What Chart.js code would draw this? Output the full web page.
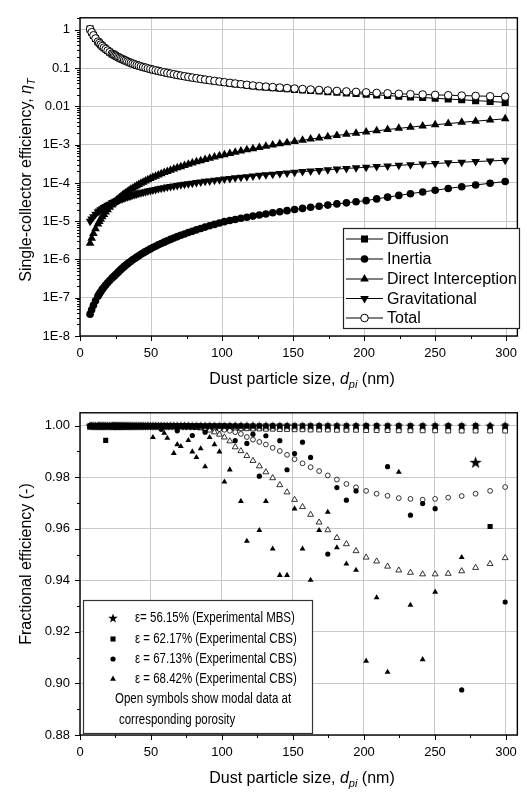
<!DOCTYPE html>
<html>
<head>
<meta charset="utf-8">
<script src="https://cdn.jsdelivr.net/npm/chart.js@4.4.1/dist/chart.umd.min.js"></script>
<style>
html, body { margin: 0; padding: 0; background: #fff; }
#wrap { position: relative; width: 527px; height: 794px; }
#topBox { position: absolute; left: 0; top: 0; width: 527px; height: 395px; }
#botBox { position: absolute; left: 0; top: 395px; width: 527px; height: 399px; }
</style>
</head>
<body>
<div id="wrap">
  <div id="topBox"><canvas id="topChart" width="527" height="395"></canvas></div>
  <div id="botBox"><canvas id="botChart" width="527" height="399"></canvas></div>
</div>
<script>
// particle sizes (nm), shared by both panels
const sizes = [
  7.10, 8.20, 9.47, 10.93, 12.63, 13.57, 14.58, 15.67, 16.84, 18.09,
  19.44, 20.89, 22.45, 23.27, 24.13, 25.01, 25.93, 26.88, 27.86, 28.88,
  29.94, 31.04, 32.17, 33.35, 34.57, 35.84, 37.15, 38.52, 39.93, 41.39,
  42.91, 44.48, 46.11, 47.80, 49.55, 51.36, 53.24, 55.19, 57.21, 59.31,
  61.48, 63.74, 66.07, 68.49, 71.0, 73.6, 76.3, 79.1, 82.0, 85.0,
  88.1, 91.3, 94.7, 98.2, 101.7, 105.5, 109.3, 113.3, 117.5, 121.8,
  126.3, 130.9, 135.7, 140.7, 145.8, 151.1, 156.7, 162.4, 168.4, 174.5,
  180.9, 187.6, 194.4, 201.5, 208.9, 216.6, 224.5, 232.7, 241.3, 250.1,
  259.3, 268.8, 278.6, 288.8, 299.4
];

// top panel: single-collector efficiency
const diffusion = [
  1.046, 0.868, 0.720, 0.596, 0.494, 0.452, 0.412, 0.377, 0.344, 0.315,
  0.288, 0.262, 0.240, 0.230, 0.220, 0.211, 0.202, 0.193, 0.185, 0.177,
  0.170, 0.163, 0.156, 0.149, 0.143, 0.137, 0.131, 0.125, 0.120, 0.1154,
  0.1109, 0.1065, 0.1024, 0.0984, 0.0946, 0.0909, 0.0874, 0.0840, 0.0807, 0.0775,
  0.0745, 0.0716, 0.0688, 0.0661, 0.0634, 0.0609, 0.0585, 0.0563, 0.0540, 0.0518,
  0.0498, 0.0478, 0.0459, 0.0441, 0.0423, 0.0406, 0.0389, 0.0373, 0.0358, 0.0342,
  0.0329, 0.0318, 0.0308, 0.0299, 0.0289, 0.0279, 0.0270, 0.0261, 0.0252, 0.0242,
  0.0234, 0.0226, 0.0217, 0.0209, 0.0200, 0.0192, 0.0184, 0.0177, 0.0171, 0.0163,
  0.0156, 0.0149, 0.0142, 0.0135, 0.0127
];
const inertia = [
  3.72e-8, 4.87e-8, 6.38e-8, 8.36e-8, 1.10e-7, 1.26e-7, 1.44e-7, 1.65e-7, 1.88e-7, 2.16e-7,
  2.47e-7, 2.83e-7, 3.24e-7, 3.47e-7, 3.71e-7, 3.97e-7, 4.31e-7, 4.67e-7, 5.07e-7, 5.51e-7,
  5.98e-7, 6.49e-7, 7.05e-7, 7.65e-7, 8.30e-7, 9.01e-7, 9.78e-7, 1.06e-6, 1.15e-6, 1.25e-6,
  1.36e-6, 1.47e-6, 1.60e-6, 1.74e-6, 1.89e-6, 2.05e-6, 2.22e-6, 2.41e-6, 2.62e-6, 2.84e-6,
  3.09e-6, 3.35e-6, 3.64e-6, 3.95e-6, 4.28e-6, 4.65e-6, 5.05e-6, 5.48e-6, 5.95e-6, 6.46e-6,
  7.01e-6, 7.61e-6, 8.26e-6, 8.96e-6, 9.73e-6, 1.04e-5, 1.11e-5, 1.19e-5, 1.27e-5, 1.36e-5,
  1.45e-5, 1.55e-5, 1.66e-5, 1.77e-5, 1.89e-5, 2.03e-5, 2.16e-5, 2.31e-5, 2.47e-5, 2.64e-5,
  2.83e-5, 3.02e-5, 3.23e-5, 3.45e-5, 3.83e-5, 4.25e-5, 4.72e-5, 5.24e-5, 5.82e-5, 6.46e-5,
  7.18e-5, 7.97e-5, 8.85e-5, 9.82e-5, 1.09e-4
];
const interception = [
  2.67e-6, 3.56e-6, 4.75e-6, 6.34e-6, 8.45e-6, 9.76e-6, 1.13e-5, 1.30e-5, 1.50e-5, 1.74e-5,
  2.00e-5, 2.31e-5, 2.67e-5, 2.87e-5, 3.09e-5, 3.32e-5, 3.56e-5, 3.83e-5, 4.11e-5, 4.42e-5,
  4.75e-5, 5.11e-5, 5.49e-5, 5.90e-5, 6.34e-5, 6.81e-5, 7.32e-5, 7.86e-5, 8.45e-5, 9.08e-5,
  9.76e-5, 1.05e-4, 1.13e-4, 1.21e-4, 1.30e-4, 1.40e-4, 1.50e-4, 1.62e-4, 1.74e-4, 1.87e-4,
  2.00e-4, 2.15e-4, 2.31e-4, 2.49e-4, 2.67e-4, 2.87e-4, 3.09e-4, 3.32e-4, 3.56e-4, 3.83e-4,
  4.11e-4, 4.42e-4, 4.75e-4, 5.11e-4, 5.49e-4, 5.90e-4, 6.34e-4, 6.81e-4, 7.32e-4, 7.86e-4,
  8.45e-4, 9.08e-4, 9.76e-4, 1.05e-3, 1.13e-3, 1.21e-3, 1.30e-3, 1.40e-3, 1.50e-3, 1.62e-3,
  1.74e-3, 1.87e-3, 2.00e-3, 2.15e-3, 2.31e-3, 2.49e-3, 2.67e-3, 2.87e-3, 3.09e-3, 3.32e-3,
  3.56e-3, 3.83e-3, 4.11e-3, 4.42e-3, 4.75e-3
];
const gravitational = [
  1.00e-5, 1.15e-5, 1.31e-5, 1.51e-5, 1.73e-5, 1.85e-5, 1.98e-5, 2.12e-5, 2.27e-5, 2.43e-5,
  2.61e-5, 2.79e-5, 2.99e-5, 3.09e-5, 3.20e-5, 3.31e-5, 3.43e-5, 3.54e-5, 3.67e-5, 3.80e-5,
  3.93e-5, 4.06e-5, 4.21e-5, 4.35e-5, 4.50e-5, 4.66e-5, 4.82e-5, 4.99e-5, 5.16e-5, 5.34e-5,
  5.53e-5, 5.72e-5, 5.92e-5, 6.13e-5, 6.34e-5, 6.56e-5, 6.79e-5, 7.02e-5, 7.27e-5, 7.52e-5,
  7.78e-5, 8.05e-5, 8.34e-5, 8.63e-5, 8.93e-5, 9.24e-5, 9.56e-5, 9.89e-5, 1.02e-4, 1.06e-4,
  1.10e-4, 1.13e-4, 1.17e-4, 1.22e-4, 1.26e-4, 1.31e-4, 1.36e-4, 1.41e-4, 1.46e-4, 1.52e-4,
  1.58e-4, 1.64e-4, 1.70e-4, 1.77e-4, 1.83e-4, 1.90e-4, 1.98e-4, 2.05e-4, 2.13e-4, 2.22e-4,
  2.30e-4, 2.39e-4, 2.48e-4, 2.58e-4, 2.68e-4, 2.78e-4, 2.89e-4, 3.00e-4, 3.11e-4, 3.23e-4,
  3.36e-4, 3.49e-4, 3.62e-4, 3.76e-4, 3.90e-4
];
const total = [
  1.047, 0.869, 0.721, 0.597, 0.495, 0.453, 0.413, 0.378, 0.344, 0.315,
  0.288, 0.262, 0.240, 0.230, 0.220, 0.211, 0.202, 0.193, 0.185, 0.177,
  0.170, 0.163, 0.156, 0.149, 0.143, 0.137, 0.131, 0.126, 0.120, 0.116,
  0.111, 0.107, 0.103, 0.0986, 0.0948, 0.0911, 0.0876, 0.0842, 0.0809, 0.0778,
  0.0748, 0.0719, 0.0691, 0.0664, 0.0638, 0.0613, 0.0589, 0.0567, 0.0545, 0.0523,
  0.0503, 0.0484, 0.0465, 0.0447, 0.0430, 0.0413, 0.0397, 0.0381, 0.0367, 0.0352,
  0.0339, 0.0329, 0.0320, 0.0311, 0.0302, 0.0293, 0.0285, 0.0277, 0.0269, 0.0261,
  0.0254, 0.0247, 0.0240, 0.0233, 0.0226, 0.0220, 0.0214, 0.0209, 0.0205, 0.0200,
  0.0196, 0.0192, 0.0188, 0.0184, 0.0180
];

// bottom panel: fractional efficiency
const mbs5615 = [
  1.000, 1.000, 1.000, 1.000, 1.000, 1.000, 1.000, 1.000, 1.000, 1.000,
  1.000, 1.000, 1.000, 1.000, 1.000, 1.000, 1.000, 1.000, 1.000, 1.000,
  1.000, 1.000, 1.000, 1.000, 1.000, 1.000, 1.000, 1.000, 1.000, 1.000,
  1.000, 1.000, 1.000, 1.000, 1.000, 1.000, 1.000, 1.000, 1.000, 1.000,
  1.000, 1.000, 1.000, 1.000, 1.000, 1.000, 1.000, 1.000, 1.000, 1.000,
  1.000, 1.000, 1.000, 1.000, 1.000, 1.000, 1.000, 1.000, 1.000, 1.000,
  1.000, 1.000, 1.000, 1.000, 1.000, 1.000, 1.000, 1.000, 1.000, 1.000,
  1.000, 1.000, 1.000, 1.000, 1.000, 1.000, 1.000, 1.000, 1.000, 1.000,
  1.000, 1.000, 1.000, 1.000, 1.000
];
const mbsExtraSize = [278.6];
const mbsExtraEff = [0.9858];
const cbs6217 = [
  1.000, 1.000, 1.000, 1.000, 1.000, 1.000, 1.000, 1.000, 1.000, 0.9943,
  1.000, 1.000, 1.000, 1.000, 1.000, 1.000, 1.000, 1.000, 1.000, 1.000,
  1.000, 1.000, 1.000, 1.000, 1.000, 1.000, 1.000, 1.000, 1.000, 1.000,
  1.000, 1.000, 1.000, 1.000, 1.000, 1.000, 1.000, 1.000, 1.000, 1.000,
  1.000, 1.000, 1.000, 1.000, 1.000, 1.000, 1.000, 1.000, 1.000, 1.000,
  1.000, 1.000, 1.000, 1.000, 1.000, 1.000, 1.000, 1.000, 1.000, 1.000,
  1.000, 1.000, 1.000, 1.000, 1.000, 1.000, 1.000, 1.000, 1.000, 1.000,
  1.000, 1.000, 1.000, 1.000, 1.000, 1.000, 1.000, 1.000, 1.000, 1.000,
  1.000, 1.000, 1.000, 0.9609, 1.000
];
const cbs6713 = [
  1.000, 1.000, 1.000, 1.000, 1.000, 1.000, 1.000, 1.000, 1.000, 1.000,
  1.000, 1.000, 1.000, 1.000, 1.000, 1.000, 1.000, 1.000, 1.000, 1.000,
  1.000, 1.000, 1.000, 1.000, 1.000, 1.000, 1.000, 1.000, 1.000, 1.000,
  1.000, 1.000, 1.000, 1.000, 1.000, 1.000, 1.000, 1.000, 0.9986, 1.000,
  1.000, 1.000, 1.000, 0.9980, 1.000, 1.000, 1.000, 0.9962, 1.000, 1.000,
  0.9975, 1.000, 1.000, 1.000, 1.000, 1.000, 0.9942, 1.000, 0.9931, 0.9967,
  0.9804, 0.9961, 1.000, 0.9942, 0.9829, 0.9892, 0.9936, 0.9877, 1.000, 0.9502,
  0.9760, 0.9711, 0.9747, 1.000, 1.000, 0.9841, 1.000, 0.9653, 0.9698, 0.9678,
  1.000, 0.8975, 1.000, 1.000, 0.9316
];
const cbs6842 = [
  1.000, 1.000, 1.000, 1.000, 1.000, 1.000, 1.000, 1.000, 1.000, 1.000,
  1.000, 1.000, 1.000, 1.000, 1.000, 1.000, 1.000, 1.000, 1.000, 1.000,
  1.000, 1.000, 1.000, 1.000, 1.000, 1.000, 1.000, 1.000, 1.000, 1.000,
  1.000, 1.000, 1.000, 1.000, 1.000, 0.9955, 1.000, 1.000, 1.000, 0.9971,
  0.9952, 1.000, 0.9893, 0.9927, 0.9920, 1.000, 0.9943, 0.9899, 0.9877, 0.9911,
  0.9841, 0.9955, 0.9927, 0.9899, 0.9782, 0.9829, 1.000, 0.9707, 0.9552, 1.000,
  0.9594, 0.9707, 0.9522, 0.9420, 0.9420, 0.9678, 0.9522, 0.9401, 0.9594, 0.9665,
  0.9527, 0.9464, 0.9440, 0.9087, 0.9333, 0.9044, 0.9820, 0.9304, 0.9093, 0.9355,
  1.000, 0.9489, 1.000, 1.000, 1.000
];
const model6217 = [
  0.9997, 0.9997, 0.9997, 0.9997, 0.9997, 0.9997, 0.9997, 0.9997, 0.9997, 0.9997,
  0.9997, 0.9997, 0.9997, 0.9997, 0.9997, 0.9997, 0.9997, 0.9997, 0.9997, 0.9997,
  0.9997, 0.9997, 0.9997, 0.9997, 0.9997, 0.9997, 0.9997, 0.9997, 0.9997, 0.9997,
  0.9997, 0.9997, 0.9997, 0.9997, 0.9997, 0.9997, 0.9997, 0.9997, 0.9997, 0.9997,
  0.9997, 0.9997, 0.9997, 0.9997, 0.9997, 0.9996, 0.9996, 0.9995, 0.9995, 0.9994,
  0.9994, 0.9993, 0.9993, 0.9992, 0.9992, 0.9991, 0.9991, 0.9990, 0.9990, 0.9989,
  0.9989, 0.9988, 0.9988, 0.9987, 0.9987, 0.9986, 0.9986, 0.9985, 0.9985, 0.9985,
  0.9984, 0.9984, 0.9984, 0.9983, 0.9983, 0.9983, 0.9982, 0.9982, 0.9982, 0.9982,
  0.9981, 0.9981, 0.9981, 0.9981, 0.9981
];
const model6713 = [
  0.9998, 0.9998, 0.9998, 0.9998, 0.9998, 0.9998, 0.9998, 0.9998, 0.9998, 0.9998,
  0.9998, 0.9998, 0.9998, 0.9998, 0.9998, 0.9998, 0.9998, 0.9998, 0.9998, 0.9998,
  0.9998, 0.9998, 0.9998, 0.9998, 0.9998, 0.9998, 0.9998, 0.9998, 0.9998, 0.9998,
  0.9998, 0.9998, 0.9998, 0.9998, 0.9998, 0.9998, 0.9998, 0.9998, 0.9998, 0.9998,
  0.9998, 0.9998, 0.9998, 0.9998, 0.9998, 0.9998, 0.9998, 0.9998, 0.9998, 0.9995,
  0.9994, 0.9992, 0.9990, 0.9987, 0.9984, 0.9980, 0.9975, 0.9968, 0.9956, 0.9946,
  0.9937, 0.9927, 0.9914, 0.9902, 0.9887, 0.9870, 0.9854, 0.9839, 0.9824, 0.9807,
  0.9791, 0.9774, 0.9761, 0.9747, 0.9736, 0.9728, 0.9719, 0.9716, 0.9713, 0.9716,
  0.9721, 0.9727, 0.9736, 0.9747, 0.9762
];
const model6842 = [
  0.9998, 0.9998, 0.9998, 0.9998, 0.9998, 0.9998, 0.9998, 0.9998, 0.9998, 0.9998,
  0.9998, 0.9998, 0.9998, 0.9998, 0.9998, 0.9998, 0.9998, 0.9998, 0.9998, 0.9998,
  0.9998, 0.9998, 0.9998, 0.9998, 0.9998, 0.9998, 0.9998, 0.9998, 0.9998, 0.9998,
  0.9998, 0.9998, 0.9998, 0.9998, 0.9998, 0.9998, 0.9998, 0.9998, 0.9998, 0.9998,
  0.9998, 0.9998, 0.9998, 0.9998, 0.9998, 0.9998, 0.9998, 0.9996, 0.9994, 0.9991,
  0.9987, 0.9982, 0.9975, 0.9966, 0.9955, 0.9940, 0.9917, 0.9902, 0.9883, 0.9864,
  0.9843, 0.9820, 0.9797, 0.9770, 0.9742, 0.9713, 0.9685, 0.9655, 0.9625, 0.9595,
  0.9565, 0.9541, 0.9514, 0.9489, 0.9474, 0.9454, 0.9439, 0.9430, 0.9424, 0.9424,
  0.9426, 0.9436, 0.9449, 0.9464, 0.9487
];

// axis ticks / labels
const xTicks = [0, 25, 50, 75, 100, 125, 150, 175, 200, 225, 250, 275, 300];
const xTickLabels = ['0', '50', '100', '150', '200', '250', '300'];
const topYLabels = ['1E-8', '1E-7', '1E-6', '1E-5', '1E-4', '1E-3', '0.01', '0.1', '1'];
const botYTicks = [0.88, 0.89, 0.90, 0.91, 0.92, 0.93, 0.94, 0.95, 0.96, 0.97, 0.98, 0.99, 1.00];
const botYLabels = ['0.88', '0.90', '0.92', '0.94', '0.96', '0.98', '1.00'];

[diffusion, inertia, interception, gravitational, total, mbs5615, cbs6217, cbs6713, cbs6842,
 model6217, model6713, model6842].forEach((a, j) => {
  if (a.length !== sizes.length) throw new Error('array ' + j + ' has ' + a.length + ' values');
});

const FONT = '"Liberation Sans", Arial, Helvetica, sans-serif';
const GRID = '#c9c9c9';
const X_MAX = 308;
Chart.defaults.font.family = FONT;
Chart.defaults.color = '#000';

function pts(arr) {
  return sizes.map((x, i) => ({ x: x, y: arr[i] })).filter(p => p.y !== null);
}

function makeStar(d) {
  const c = document.createElement('canvas');
  c.width = d; c.height = d;
  const g = c.getContext('2d');
  const R = d / 2, r = R * 0.4;
  g.beginPath();
  for (let i = 0; i < 10; i++) {
    const a = -Math.PI / 2 + i * Math.PI / 5;
    const rr = i % 2 ? r : R;
    g.lineTo(R + rr * Math.cos(a), R * 1.08 + rr * Math.sin(a));
  }
  g.closePath();
  g.fillStyle = '#000';
  g.fill();
  return c;
}
const starSmall = makeStar(10);
const starBig = makeStar(13);

// draw text made of plain / italic / italic-subscript pieces
function richText(ctx, parts, x, y, size) {
  const fontOf = p => (p[1] ? 'italic ' : '') + (p[1] === 'sub' ? Math.round(size * 0.7) : size) + 'px ' + FONT;
  let w = 0;
  parts.forEach(p => { ctx.font = fontOf(p); w += ctx.measureText(p[0]).width; });
  let cx = x - w / 2;
  ctx.textAlign = 'left';
  ctx.textBaseline = 'alphabetic';
  parts.forEach(p => {
    ctx.font = fontOf(p);
    ctx.fillText(p[0], cx, y + (p[1] === 'sub' ? size * 0.28 : 0));
    cx += ctx.measureText(p[0]).width;
  });
}

function drawFrameTicks(chart, isMajorY) {
  const ctx = chart.ctx, a = chart.chartArea, xs = chart.scales.x, ys = chart.scales.y;
  ctx.save();
  ctx.strokeStyle = '#000';
  ctx.lineWidth = 1;
  ctx.beginPath();
  xs.ticks.forEach(t => {
    const px = Math.round(xs.getPixelForValue(t.value)) + 0.5;
    const L = t.value % 50 === 0 ? 5 : 3;
    ctx.moveTo(px, a.bottom); ctx.lineTo(px, a.bottom + L);
  });
  ys.ticks.forEach(t => {
    const py = Math.round(ys.getPixelForValue(t.value)) + 0.5;
    const L = isMajorY(t.value) ? 5 : 3;
    ctx.moveTo(a.left, py); ctx.lineTo(a.left - L, py);
  });
  ctx.stroke();
  ctx.lineWidth = 1.4;
  ctx.strokeRect(a.left, a.top, a.right - a.left, a.bottom - a.top);
  ctx.restore();
}

function xTickCallback(v) {
  return v % 50 === 0 ? xTickLabels[v / 50] : '';
}

function isTopMajor(v) {
  const e = Math.round(Math.log10(v));
  return Math.abs(v / Math.pow(10, e) - 1) < 1e-6;
}
function isBotMajor(v) {
  return Math.round(v * 100) % 2 === 0;
}

// ---------- top chart ----------
const topPlugin = {
  id: 'topDecor',
  afterDraw(chart) {
    drawFrameTicks(chart, isTopMajor);
    const ctx = chart.ctx;
    ctx.save();
    ctx.fillStyle = '#000';
    richText(ctx, [['Dust particle size, ', ''], ['d', 'it'], ['pi', 'sub'], [' (nm)', '']], 302, 384, 16);
    ctx.translate(31, 180);
    ctx.rotate(-Math.PI / 2);
    richText(ctx, [['Single-collector efficiency, ', ''], ['\u03B7', 'it'], ['T', 'sub']], 0, 0, 16);
    ctx.restore();

    // legend
    ctx.save();
    ctx.fillStyle = '#fff';
    ctx.fillRect(343, 228, 176, 100);
    ctx.strokeStyle = '#222';
    ctx.lineWidth = 1.2;
    ctx.strokeRect(343.5, 228.5, 176, 100);
    const rowY = [239, 259, 279, 298.5, 318];
    const order = [0, 1, 2, 3, 4];
    order.forEach((di, r) => {
      const ds = chart.data.datasets[di];
      const y = rowY[r];
      ctx.strokeStyle = '#000';
      ctx.lineWidth = 1;
      ctx.beginPath(); ctx.moveTo(346, y); ctx.lineTo(383, y); ctx.stroke();
      ctx.fillStyle = ds.pointBackgroundColor;
      ctx.strokeStyle = '#000';
      ctx.lineWidth = ds.pointBorderWidth;
      Chart.helpers.drawPoint(ctx, { pointStyle: ds.pointStyle, rotation: ds.pointRotation || 0,
        radius: ds.pointRadius, borderWidth: ds.pointBorderWidth }, 364.5, y);
      ctx.fillStyle = '#000';
      ctx.font = '16px ' + FONT;
      ctx.textAlign = 'left';
      ctx.textBaseline = 'middle';
      ctx.fillText(ds.label, 387, y + 1);
    });
    ctx.restore();
  }
};

function lineSet(label, arr, style, radius, opts) {
  return Object.assign({
    label: label,
    data: pts(arr),
    showLine: true,
    borderColor: '#000',
    borderWidth: 1,
    pointStyle: style,
    pointRadius: radius,
    pointBackgroundColor: '#000',
    pointBorderColor: '#000',
    pointBorderWidth: 0
  }, opts || {});
}

new Chart(document.getElementById('topChart'), {
  type: 'scatter',
  data: {
    datasets: [
      lineSet('Diffusion', diffusion, 'rect', 5, { order: 4 }),
      lineSet('Inertia', inertia, 'circle', 3.8, { order: 3 }),
      lineSet('Direct Interception', interception, 'triangle', 5, { order: 2 }),
      lineSet('Gravitational', gravitational, 'triangle', 5, { order: 1, pointRotation: 180 }),
      lineSet('Total', total, 'circle', 3.8, { order: 0, pointBackgroundColor: '#fff', pointBorderWidth: 1 })
    ]
  },
  options: {
    responsive: false,
    animation: false,
    events: [],
    layout: { padding: { top: 5, right: 527 - (80 + X_MAX * 1.4423), left: 0, bottom: 0 } },
    plugins: { legend: { display: false }, tooltip: { enabled: false } },
    scales: {
      x: {
        type: 'linear', min: 0, max: X_MAX,
        afterBuildTicks: s => { s.ticks = xTicks.map(v => ({ value: v })); },
        afterFit: s => { s.height = 59; },
        border: { display: false },
        grid: { drawTicks: false, lineWidth: 1, color: c => (c.tick && c.tick.value % 50 === 0) ? GRID : 'rgba(0,0,0,0)' },
        ticks: { autoSkip: false, maxRotation: 0, padding: 10, font: { size: 13 }, callback: xTickCallback }
      },
      y: {
        type: 'logarithmic', min: 1e-8, max: 2.07,
        afterBuildTicks: s => {
          const t = [];
          for (let e = -8; e <= 0; e++) {
            for (let m = 1; m <= 9; m++) {
              const v = m * Math.pow(10, e);
              if (v <= s.max) t.push({ value: v });
            }
          }
          s.ticks = t;
        },
        afterFit: s => { s.width = 80; },
        border: { display: false },
        grid: { drawTicks: false, lineWidth: 1, color: c => (c.tick && isTopMajor(c.tick.value)) ? GRID : 'rgba(0,0,0,0)' },
        ticks: {
          autoSkip: false, padding: 10, font: { size: 13 },
          callback: v => isTopMajor(v) ? topYLabels[Math.round(Math.log10(v)) + 8] : ''
        }
      }
    }
  },
  plugins: [topPlugin]
});

// ---------- bottom chart ----------
const botPlugin = {
  id: 'botDecor',
  afterDraw(chart) {
    drawFrameTicks(chart, isBotMajor);
    const ctx = chart.ctx;
    ctx.save();
    ctx.fillStyle = '#000';
    richText(ctx, [['Dust particle size, ', ''], ['d', 'it'], ['pi', 'sub'], [' (nm)', '']], 302, 388, 16);
    ctx.translate(31, 169);
    ctx.rotate(-Math.PI / 2);
    richText(ctx, [['Fractional efficiency (-)', '']], 0, 0, 16);
    ctx.restore();

    // legend box
    ctx.save();
    ctx.fillStyle = '#fff';
    ctx.fillRect(83, 205, 229, 133);
    ctx.strokeStyle = '#333';
    ctx.lineWidth = 1.2;
    ctx.strokeRect(83.5, 205.5, 229, 133);
    const rows = [
      { ds: 0, text: '\u03B5= 56.15% (Experimental MBS)', y: 223 },
      { ds: 4, text: '\u03B5 = 62.17% (Experimental CBS)', y: 244 },
      { ds: 3, text: '\u03B5 = 67.13% (Experimental CBS)', y: 264 },
      { ds: 2, text: '\u03B5 = 68.42% (Experimental CBS)', y: 284 }
    ];
    rows.forEach(r => {
      const ds = chart.data.datasets[r.ds];
      ctx.fillStyle = '#000';
      ctx.strokeStyle = '#000';
      Chart.helpers.drawPoint(ctx, { pointStyle: ds.pointStyle, rotation: 0,
        radius: ds.pointRadius, borderWidth: 0 }, 113, r.y);
      condensed(ctx, r.text, 135, r.y);
    });
    condensed(ctx, 'Open symbols show modal data at', 115, 304);
    condensed(ctx, 'corresponding porosity', 119, 325);
    ctx.restore();
  }
};

function condensed(ctx, text, x, y) {
  ctx.save();
  ctx.translate(x, y);
  ctx.scale(0.82, 1);
  ctx.font = '14px ' + FONT;
  ctx.fillStyle = '#000';
  ctx.textAlign = 'left';
  ctx.textBaseline = 'middle';
  ctx.fillText(text, 0, 0);
  ctx.restore();
}

function markSet(label, arr, style, radius, open, order) {
  return {
    label: label,
    data: pts(arr),
    showLine: false,
    pointStyle: style,
    pointRadius: radius,
    pointBackgroundColor: open ? '#fff' : '#000',
    pointBorderColor: '#000',
    pointBorderWidth: open ? 0.8 : 0,
    order: order
  };
}

new Chart(document.getElementById('botChart'), {
  type: 'scatter',
  data: {
    datasets: [
      markSet('MBS 56.15%', mbs5615, starSmall, 5, false, 0),
      Object.assign(markSet('MBS extra', [], starBig, 6, false, 0),
        { data: mbsExtraSize.map((x, i) => ({ x: x, y: mbsExtraEff[i] })) }),
      markSet('CBS 68.42%', cbs6842, 'triangle', 3.4, false, 1),
      markSet('CBS 67.13%', cbs6713, 'circle', 2.6, false, 2),
      markSet('CBS 62.17%', cbs6217, 'rect', 3.6, false, 3),
      markSet('Model 68.42%', model6842, 'triangle', 3.4, true, 4),
      markSet('Model 67.13%', model6713, 'circle', 2.4, true, 5),
      markSet('Model 62.17%', model6217, 'rect', 3.4, true, 6)
    ]
  },
  options: {
    responsive: false,
    animation: false,
    events: [],
    layout: { padding: { top: 9, right: 527 - (80 + X_MAX * 1.4423), left: 0, bottom: 0 } },
    plugins: { legend: { display: false }, tooltip: { enabled: false } },
    scales: {
      x: {
        type: 'linear', min: 0, max: X_MAX,
        afterBuildTicks: s => { s.ticks = xTicks.map(v => ({ value: v })); },
        afterFit: s => { s.height = 59; },
        border: { display: false },
        grid: { drawTicks: false, lineWidth: 1, color: c => (c.tick && c.tick.value % 50 === 0) ? GRID : 'rgba(0,0,0,0)' },
        ticks: { autoSkip: false, maxRotation: 0, padding: 10, font: { size: 13 }, callback: xTickCallback }
      },
      y: {
        type: 'linear', min: 0.88, max: 1.005,
        afterBuildTicks: s => { s.ticks = botYTicks.map(v => ({ value: v })); },
        afterFit: s => { s.width = 80; },
        border: { display: false },
        grid: { drawTicks: false, lineWidth: 1, color: c => (c.tick && isBotMajor(c.tick.value)) ? GRID : 'rgba(0,0,0,0)' },
        ticks: {
          autoSkip: false, padding: 10, font: { size: 13 },
          callback: v => isBotMajor(v) ? botYLabels[Math.round((v - 0.88) * 50)] : ''
        }
      }
    }
  },
  plugins: [botPlugin]
});
</script>
</body>
</html>
